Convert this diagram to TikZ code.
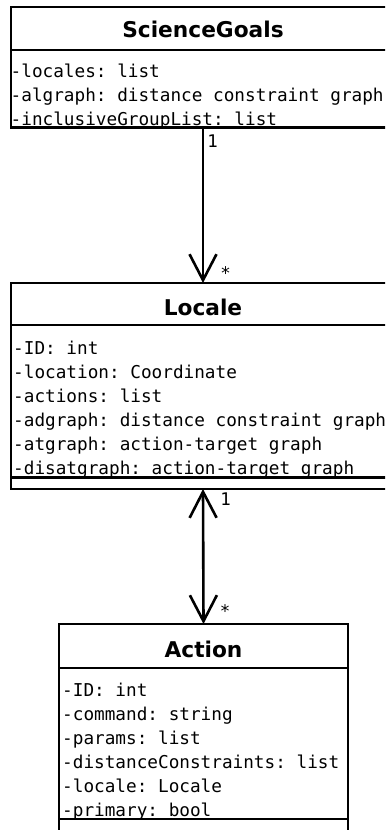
\documentclass[tikz,border=0pt]{standalone}
\usepackage{fontspec}
\setmainfont{DejaVu Sans}
\setmonofont{DejaVu Sans Mono}
\usetikzlibrary{arrows.meta}
\begin{document}
\begin{tikzpicture}[x=1bp,y=-1bp,
  box/.style={draw, line width=2.5bp, rectangle, inner sep=0pt, outer sep=0pt, anchor=north west},
  ttl/.style={font=\fontsize{21.7bp}{26bp}\selectfont\bfseries, anchor=base, inner sep=0pt},
  attr/.style={font=\fontsize{17.7bp}{24bp}\selectfont\ttfamily, anchor=base west, inner sep=0pt},
  sepline/.style={line width=2.5bp},
  conn/.style={line width=2.6bp},
  mult/.style={font=\fontsize{17.4bp}{20bp}\selectfont\ttfamily, anchor=base, inner sep=0pt}
]
\useasboundingbox (0,0) rectangle (385,830);
\clip (0,0) rectangle (385,830);

% ScienceGoals
\node[box, minimum width=384bp, minimum height=120.5bp] (sg) at (11,7) {};
\draw[sepline] ([yshift=-43bp]sg.north west) -- ([yshift=-43bp]sg.north east);
\node[ttl] (sgt) at (203,37) {ScienceGoals};
\node[attr] (sg1) at (10.5,77.5) {-locales: list};
\node[attr] (sg2) at (10.5,101.5) {-algraph: distance constraint graph};
\node[attr] (sg3) at (10.5,125.5) {-inclusiveGroupList: list};

% Locale
\node[box, minimum width=384bp, minimum height=206bp] (loc) at (11,283) {};
\draw[sepline] ([yshift=-42bp]loc.north west) -- ([yshift=-42bp]loc.north east);
\draw[sepline] ([yshift=11.5bp]loc.south west) -- ([yshift=11.5bp]loc.south east);
\node[ttl] (loct) at (203,315) {Locale};
\node[attr] (loc1) at (13,354.5) {-ID: int};
\node[attr] (loc2) at (13,378.5) {-location: Coordinate};
\node[attr] (loc3) at (13,402.5) {-actions: list};
\node[attr] (loc4) at (13,426.5) {-adgraph: distance constraint graph};
\node[attr] (loc5) at (13,450.5) {-atgraph: action-target graph};
\node[attr] (loc6) at (13,474.5) {-disatgraph: action-target graph};

% Action
\node[box, minimum width=289bp, minimum height=207bp] (act) at (59,624) {};
\draw[sepline] ([yshift=-44bp]act.north west) -- ([yshift=-44bp]act.north east);
\draw[sepline] ([yshift=12bp]act.south west) -- ([yshift=12bp]act.south east);
\node[ttl] (actt) at (203.5,657) {Action};
\node[attr] (act1) at (62,696) {-ID: int};
\node[attr] (act2) at (62,720) {-command: string};
\node[attr] (act3) at (62,744) {-params: list};
\node[attr] (act4) at (62,768) {-distanceConstraints: list};
\node[attr] (act5) at (62,792) {-locale: Locale};
\node[attr] (act6) at (62,816) {-primary: bool};

% connectors
\draw[conn, -{Straight Barb[length=26bp,width=27bp,sharp]}] (sg.south) -- (loc.north);
\draw[conn, {Straight Barb[length=26bp,width=27bp,sharp]}-{Straight Barb[length=26bp,width=27bp,sharp]}] (loc.south) -- (act.north);

% multiplicities
\node[mult] (m1) at (212.5,147) {1};
\node[mult] (m2) at (225.5,279) {*};
\node[mult] (m3) at (225.5,505) {1};
\node[mult] (m4) at (225,617) {*};
\end{tikzpicture}
\end{document}
